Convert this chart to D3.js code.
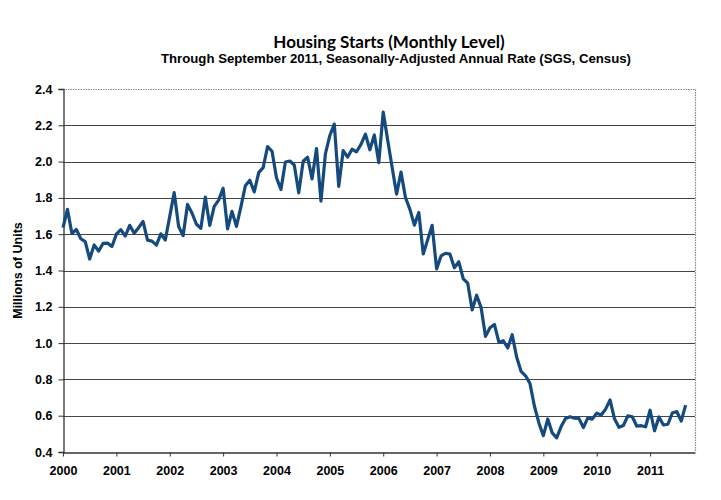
<!DOCTYPE html>
<html>
<head>
<meta charset="utf-8">
<script src="https://cdn.jsdelivr.net/npm/d3@7"></script>
<style>
  body { margin: 0; background: #fff; }
  text { font-family: "Liberation Sans", Arial, sans-serif; }
</style>
</head>
<body>
<div id="chart"></div>
<script>

// monthly housing starts, millions of units, SAAR (Jan 2000 .. Sep 2011)
var starts2000 = [1.636, 1.737, 1.604, 1.626, 1.575, 1.559, 1.463, 1.541, 1.507, 1.549, 1.551, 1.532];
var starts2001 = [1.600, 1.625, 1.590, 1.649, 1.605, 1.636, 1.670, 1.567, 1.562, 1.540, 1.602, 1.568];
var starts2002 = [1.698, 1.829, 1.642, 1.592, 1.764, 1.717, 1.655, 1.633, 1.804, 1.648, 1.753, 1.788];
var starts2003 = [1.853, 1.629, 1.726, 1.643, 1.751, 1.867, 1.897, 1.833, 1.939, 1.967, 2.083, 2.057];
var starts2004 = [1.911, 1.846, 1.998, 2.003, 1.981, 1.828, 2.002, 2.024, 1.905, 2.072, 1.782, 2.042];
var starts2005 = [2.144, 2.207, 1.864, 2.061, 2.025, 2.068, 2.054, 2.095, 2.151, 2.065, 2.147, 1.994];
var starts2006 = [2.273, 2.119, 1.969, 1.821, 1.942, 1.802, 1.737, 1.650, 1.720, 1.491, 1.570, 1.649];
var starts2007 = [1.409, 1.480, 1.495, 1.490, 1.415, 1.448, 1.354, 1.330, 1.183, 1.264, 1.197, 1.037];
var starts2008 = [1.084, 1.103, 1.005, 1.013, 0.973, 1.046, 0.923, 0.844, 0.820, 0.777, 0.652, 0.560];
var starts2009 = [0.490, 0.582, 0.505, 0.478, 0.540, 0.585, 0.594, 0.586, 0.585, 0.534, 0.588, 0.581];
var starts2010 = [0.614, 0.604, 0.636, 0.687, 0.583, 0.536, 0.546, 0.599, 0.594, 0.543, 0.545, 0.539];
var starts2011 = [0.630, 0.517, 0.593, 0.549, 0.553, 0.615, 0.623, 0.571, 0.658];

var yearLabels = ['2000', '2001', '2002', '2003', '2004', '2005', '2006', '2007', '2008', '2009', '2010', '2011'];
var yTicks = [0.4, 0.6, 0.8, 1.0, 1.2, 1.4, 1.6, 1.8, 2.0, 2.2, 2.4];

var starts = [].concat(starts2000, starts2001, starts2002, starts2003, starts2004, starts2005,
                       starts2006, starts2007, starts2008, starts2009, starts2010, starts2011);

var width = 721;
var height = 500;

var plot_left = 63;
var plot_right = 695;
var plot_top = 89;
var plot_bottom = 452;

// x in months since Jan 2000, axis runs a bit past the last point
var x = d3.scaleLinear()
    .domain([0, 142.1])
    .range([plot_left, plot_right]);

var y = d3.scaleLinear()
    .domain([0.4, 2.4])
    .range([plot_bottom, plot_top]);

var svg = d3.select('#chart')
  .append('svg')
    .attr('width', width)
    .attr('height', height);

// title
svg.append('text')
    .text('Housing Starts (Monthly Level)')
    .attr('x', 389)
    .attr('y', 48)
    .style('text-anchor', 'middle')
    .style('font-family', 'Lato, "Open Sans", sans-serif')
    .style('font-weight', 'bold')
    .style('font-size', '17px')
    .attr('fill', '#000');

svg.append('text')
    .text('Through September 2011, Seasonally-Adjusted Annual Rate (SGS, Census)')
    .attr('x', 396)
    .attr('y', 63)
    .style('text-anchor', 'middle')
    .style('font-family', '"Liberation Sans Narrow", "Arial Narrow", "Liberation Sans", sans-serif')
    .style('font-weight', 'bold')
    .style('font-size', '13.2px')
    .attr('fill', '#000');

// horizontal grid lines
svg.append('g')
    .selectAll('line.y-grid')
    .data(yTicks.slice(1, yTicks.length - 1))
  .enter()
    .append('line')
    .attr('class', 'y-grid')
    .attr('stroke', '#444')
    .attr('stroke-width', 1.2)
    .attr('x1', plot_left)
    .attr('x2', plot_right)
    .attr('y1', function(d) { return Math.round(y(d)) + 0.5; })
    .attr('y2', function(d) { return Math.round(y(d)) + 0.5; });

// dotted top and right border
svg.append('path')
    .attr('d', 'M' + plot_left + ',' + (plot_top + 0.5) + 'H' + (plot_right + 0.5) + 'V' + plot_bottom)
    .attr('fill', 'none')
    .attr('stroke', '#888')
    .attr('stroke-width', 1.2)
    .attr('stroke-dasharray', '1.5,1');

// y axis
var yAxis = svg.append('g')
    .attr('transform', 'translate(' + (plot_left + 0.5) + ',0)')
    .call(d3.axisLeft(y).tickValues(yTicks).tickSize(5).tickPadding(6)
        .tickFormat(d3.format('.1f')));

yAxis.select('.domain').attr('stroke', '#333').attr('stroke-width', 1.3);
yAxis.selectAll('.tick line').attr('stroke', '#333');
yAxis.selectAll('.tick text')
    .style('font-size', '12.5px')
    .style('font-weight', 'bold')
    .attr('fill', '#000');

// x axis
var xAxis = svg.append('g')
    .attr('transform', 'translate(0,' + (plot_bottom + 0.5) + ')')
    .call(d3.axisBottom(x)
        .tickValues(yearLabels.map(function(d, i) { return i * 12; }))
        .tickSize(4).tickPadding(10).tickSizeOuter(0)
        .tickFormat(function(d, i) { return yearLabels[i]; }));

xAxis.select('.domain').attr('stroke', '#333').attr('stroke-width', 1.3);
xAxis.selectAll('.tick line').attr('stroke', '#333');
xAxis.selectAll('.tick text')
    .style('font-size', '12.5px')
    .style('font-weight', 'bold')
    .attr('fill', '#000');

// y axis label
svg.append('text')
    .text('Millions of Units')
    .attr('transform', 'translate(22,' + ((plot_top + plot_bottom) / 2) + ') rotate(-90)')
    .style('text-anchor', 'middle')
    .style('font-size', '12.5px')
    .style('font-weight', 'bold')
    .attr('fill', '#000');

// the series
var line = d3.line()
    .x(function(d, i) { return x(i); })
    .y(function(d) { return y(d); });

svg.append('path')
    .datum(starts)
    .attr('d', line)
    .attr('fill', 'none')
    .attr('stroke', '#154a7e')
    .attr('stroke-width', 3.2)
    .attr('stroke-linejoin', 'round');

</script>
</body>
</html>
